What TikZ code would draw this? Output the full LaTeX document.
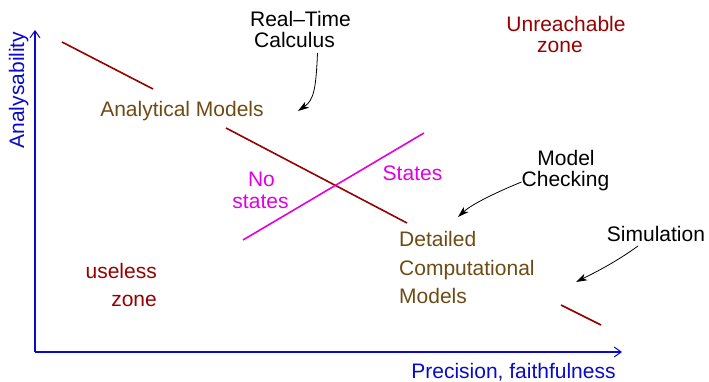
\documentclass[tikz,border=0pt]{standalone}
\usepackage{fontspec}
\setmainfont{Liberation Sans}
\usetikzlibrary{arrows.meta}
\definecolor{axisblue}{RGB}{10,10,200}
\definecolor{zonered}{RGB}{150,0,0}
\definecolor{modelbrown}{RGB}{110,75,20}
\definecolor{statemag}{RGB}{225,0,225}
\begin{document}
\begin{tikzpicture}[x=1pt,y=-1pt,
  every node/.style={font=\fontsize{21}{25}\selectfont, inner sep=0pt},
  lbl/.style={anchor=base},
  axisline/.style={draw=axisblue, line width=1.6pt, -{Straight Barb[length=7pt,width=10pt,line width=1pt]}},
  frontier/.style={draw=zonered, line width=1.6pt},
  stateline/.style={draw=statemag, line width=1.6pt},
  pointer/.style={draw=black, line width=0.8pt, -{Stealth[length=11pt,width=7pt,inset=3pt]}}]
\useasboundingbox (0,0) rectangle (709,382);

% axes
\coordinate (origin) at (35,352);
\coordinate (ytip) at (35,30);
\coordinate (xtip) at (622,352);
\draw[axisline] (origin) -- (ytip);
\draw[axisline] (origin) -- (xtip);
\node[lbl, rotate=90, text=axisblue] (ylab) at (24,90) {Analysability};
\node[lbl, text=axisblue] (xlab) at (513.5,378) {Precision, faithfulness};

% frontier line
\coordinate (f1) at (62,42);
\coordinate (f2) at (153,89);
\coordinate (f3) at (226,128);
\coordinate (f4) at (407,223);
\coordinate (f5) at (561,305);
\coordinate (f6) at (601,325);
\draw[frontier] (f1) -- (f2);
\draw[frontier] (f3) -- (f4);
\draw[frontier] (f5) -- (f6);

% states line
\coordinate (s1) at (243,240);
\coordinate (s2) at (424,133);
\draw[stateline] (s1) -- (s2);

% labels
\node[lbl, text=modelbrown] (anmod) at (182,117) {Analytical Models};
\node[lbl, text=modelbrown, anchor=base west] (det1) at (399,246) {Detailed};
\node[lbl, text=modelbrown, anchor=base west] (det2) at (399,275) {Computational};
\node[lbl, text=modelbrown, anchor=base west] (det3) at (399,303) {Models};

\node[lbl, text=statemag] (no1) at (261.5,187) {No};
\node[lbl, text=statemag] (no2) at (260.5,208) {states};
\node[lbl, text=statemag] (st) at (412.5,181) {States};

\node[lbl, text=zonered] (un1) at (566,32) {Unreachable};
\node[lbl, text=zonered] (un2) at (560,53) {zone};
\node[lbl, text=zonered, anchor=base east] (us1) at (157,278) {useless};
\node[lbl, text=zonered, anchor=base east] (us2) at (157,306) {zone};

\node[lbl] (rt1) at (300.5,27) {Real–Time};
\node[lbl] (rt2) at (294.5,48) {Calculus};
\node[lbl] (mc1) at (566,166) {Model};
\node[lbl] (mc2) at (565.5,187) {Checking};
\node[lbl] (sim) at (656,241) {Simulation};

% pointers
\coordinate (rtend) at (298,111);
\coordinate (mcend) at (458,217);
\coordinate (simend) at (576,282);
\draw[pointer] ([shift={(23,5)}]rt2.base) .. controls (316,88) and (314,100) .. (rtend);
\draw[pointer] ([shift={(-44,-5)}]mc2.base) .. controls (497,192) and (472,204) .. (mcend);
\draw[pointer] ([shift={(-18,5)}]sim.base) .. controls (616,262) and (596,272) .. (simend);
\end{tikzpicture}
\end{document}
